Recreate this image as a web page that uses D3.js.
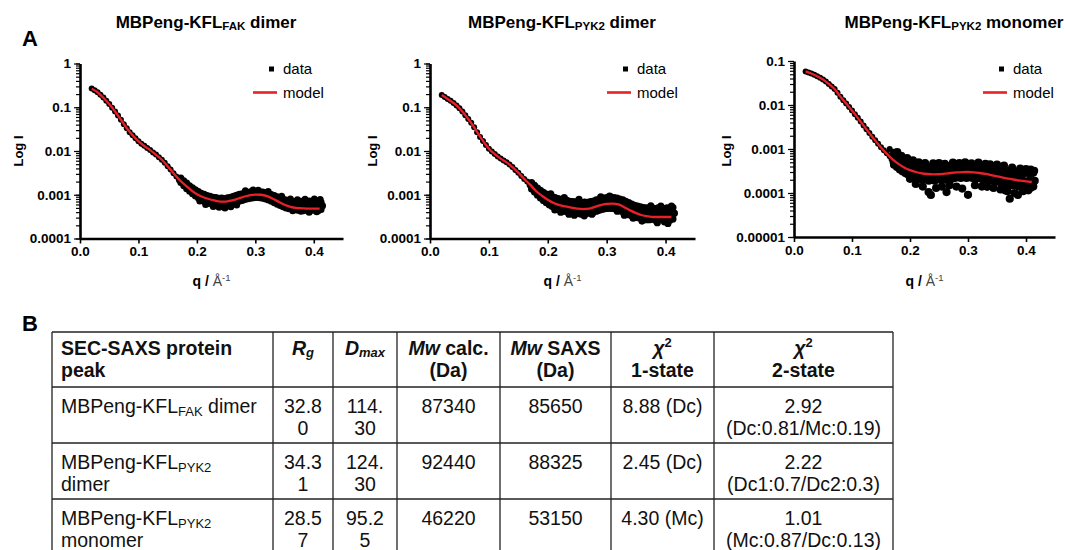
<!DOCTYPE html>
<html lang="en">
<head>
<meta charset="utf-8">
<title>SEC-SAXS fits and table</title>
<script src="https://d3js.org/d3.v7.min.js"></script>
<style>
  body { margin: 0; background: #fff; }
  text { white-space: pre; }
</style>
</head>
<body>
<script>
// ---------- data ----------
// q grid of the measured points (1/A)
const qData = [
  0.020, 0.025, 0.030, 0.035, 0.040, 0.045, 0.050, 0.055, 0.060, 0.065,
  0.070, 0.075, 0.080, 0.085, 0.090, 0.095, 0.100, 0.105, 0.110, 0.115,
  0.120, 0.125, 0.130, 0.135, 0.140, 0.145, 0.150, 0.155, 0.160, 0.165,
  0.170, 0.175, 0.180, 0.185, 0.190, 0.195, 0.200, 0.205, 0.210, 0.215,
  0.220, 0.225, 0.230, 0.235, 0.240, 0.245, 0.250, 0.255, 0.260, 0.265,
  0.270, 0.275, 0.280, 0.285, 0.290, 0.295, 0.300, 0.305, 0.310, 0.315,
  0.320, 0.325, 0.330, 0.335, 0.340, 0.345, 0.350, 0.355, 0.360, 0.365,
  0.370, 0.375, 0.380, 0.385, 0.390, 0.395, 0.400, 0.405, 0.410, 0.415
];
// q grid of the noisy tail (upper / lower edge of the scatter band)
const qTail = [
  0.1725, 0.1775, 0.1825, 0.1875, 0.1925, 0.1975, 0.2025, 0.2075, 0.2125, 0.2175,
  0.2225, 0.2275, 0.2325, 0.2375, 0.2425, 0.2475, 0.2525, 0.2575, 0.2625, 0.2675,
  0.2725, 0.2775, 0.2825, 0.2875, 0.2925, 0.2975, 0.3025, 0.3075, 0.3125, 0.3175,
  0.3225, 0.3275, 0.3325, 0.3375, 0.3425, 0.3475, 0.3525, 0.3575, 0.3625, 0.3675,
  0.3725, 0.3775, 0.3825, 0.3875, 0.3925, 0.3975, 0.4025, 0.4075, 0.4125
];
// q grid of the model curves
const qModel = [
  0.02, 0.03, 0.04, 0.05, 0.06, 0.07, 0.08, 0.09, 0.10, 0.11,
  0.12, 0.13, 0.14, 0.15, 0.16, 0.17, 0.18, 0.19, 0.20, 0.21,
  0.22, 0.23, 0.24, 0.25, 0.26, 0.27, 0.28, 0.29, 0.30, 0.31,
  0.32, 0.33, 0.34, 0.35, 0.36, 0.37, 0.38, 0.39, 0.40, 0.41
];

// MBPeng-KFL FAK dimer
const fakData = [
  0.27, 0.245, 0.22, 0.192, 0.166, 0.141, 0.118, 0.098, 0.080, 0.065,
  0.052, 0.041, 0.033, 0.027, 0.0228, 0.0195, 0.0168, 0.0147, 0.0131, 0.0117,
  0.0105, 0.0093, 0.0083, 0.0072, 0.0063, 0.0054, 0.0045, 0.0038, 0.0031, 0.0026,
  0.0022, 0.0019, 0.00168, 0.00146, 0.00131, 0.00117, 0.00106, 0.00097, 0.00090, 0.00086,
  0.00081, 0.00078, 0.00074, 0.00073, 0.00070, 0.00071, 0.00070, 0.00073, 0.00075, 0.00079,
  0.00083, 0.00087, 0.00091, 0.00095, 0.00098, 0.00100, 0.00102, 0.00101, 0.00100, 0.00097,
  0.00093, 0.00088, 0.00083, 0.00077, 0.00072, 0.00067, 0.00063, 0.00061, 0.00058, 0.00057,
  0.00056, 0.00057, 0.00055, 0.00056, 0.00057, 0.00055, 0.00056, 0.00057, 0.00055, 0.00056
];
const fakUpper = [
  0.0024, 0.0021, 0.00185, 0.0016, 0.00145, 0.0013, 0.00118, 0.00108, 0.00102, 0.00096,
  0.00092, 0.00088, 0.00086, 0.00083, 0.00084, 0.00082, 0.00085, 0.00088, 0.00092, 0.00097,
  0.00102, 0.00106, 0.00110, 0.00114, 0.00117, 0.00118, 0.00120, 0.00117, 0.00116, 0.00112,
  0.00106, 0.00101, 0.00096, 0.00090, 0.00085, 0.00080, 0.00076, 0.00074, 0.00071, 0.00070,
  0.00069, 0.00071, 0.00068, 0.00070, 0.00072, 0.00068, 0.00070, 0.00071, 0.00067
];
const fakLower = [
  0.0019, 0.00160, 0.00138, 0.00120, 0.00106, 0.00094, 0.00084, 0.00077, 0.00071, 0.00067,
  0.00063, 0.00060, 0.00058, 0.00057, 0.00055, 0.00056, 0.00058, 0.00060, 0.00063, 0.00067,
  0.00071, 0.00074, 0.00078, 0.00081, 0.00083, 0.00085, 0.00086, 0.00085, 0.00083, 0.00080,
  0.00076, 0.00071, 0.00066, 0.00061, 0.00057, 0.00053, 0.00050, 0.00048, 0.00047, 0.00046,
  0.00044, 0.00046, 0.00043, 0.00045, 0.00046, 0.00044, 0.00045, 0.00043, 0.00046
];
const fakStray = [
  [0.205, 0.00072], [0.215, 0.00060], [0.228, 0.00054], [0.238, 0.00052], [0.248, 0.00050],
  [0.258, 0.00053], [0.268, 0.00058], [0.283, 0.00124], [0.296, 0.00129], [0.305, 0.00127],
  [0.322, 0.00118], [0.345, 0.00092], [0.360, 0.00080], [0.372, 0.00077], [0.385, 0.00079],
  [0.392, 0.00040], [0.401, 0.00080], [0.405, 0.00041], [0.411, 0.00078], [0.378, 0.00042],
  [0.364, 0.00043]
];
const fakModel = [
  0.265, 0.22, 0.165, 0.118, 0.080, 0.052, 0.033, 0.023, 0.0168, 0.0130,
  0.0105, 0.0082, 0.0063, 0.0045, 0.0031, 0.0022, 0.00165, 0.00128, 0.00103, 0.00089,
  0.00080, 0.00074, 0.00070, 0.00070, 0.00074, 0.00081, 0.00090, 0.00097, 0.00101, 0.00100,
  0.00093, 0.00081, 0.00069, 0.00059, 0.00053, 0.00050, 0.00049, 0.00048, 0.00048, 0.00048
];

// MBPeng-KFL PYK2 dimer
const pykDimerData = [
  0.19, 0.172, 0.155, 0.140, 0.125, 0.110, 0.095, 0.080, 0.066, 0.054,
  0.044, 0.035, 0.027, 0.021, 0.017, 0.0138, 0.0113, 0.0097, 0.0085, 0.0075,
  0.0067, 0.0061, 0.0055, 0.0049, 0.0043, 0.0037, 0.0032, 0.0027, 0.0023, 0.0020,
  0.0017, 0.00145, 0.00124, 0.00108, 0.00096, 0.00086, 0.00078, 0.00072, 0.00066, 0.00063,
  0.00059, 0.00057, 0.00055, 0.00054, 0.00052, 0.00051, 0.00050, 0.00049, 0.00049, 0.00050,
  0.00051, 0.00053, 0.00055, 0.00058, 0.00060, 0.00062, 0.00064, 0.00065, 0.00065, 0.00063,
  0.00061, 0.00057, 0.00054, 0.00050, 0.00046, 0.00043, 0.00041, 0.00040, 0.00038, 0.00037,
  0.00037, 0.00036, 0.00037, 0.00036, 0.00037, 0.00038, 0.00036, 0.00037, 0.00036, 0.00038
];
const pykDimerUpper = [
  0.0019, 0.00165, 0.00142, 0.00126, 0.00114, 0.00104, 0.00097, 0.00091, 0.00086, 0.00082,
  0.00078, 0.00076, 0.00074, 0.00071, 0.00070, 0.00069, 0.00067, 0.00066, 0.00068, 0.00067,
  0.00070, 0.00072, 0.00076, 0.00079, 0.00082, 0.00085, 0.00087, 0.00088, 0.00086, 0.00084,
  0.00080, 0.00076, 0.00071, 0.00066, 0.00061, 0.00057, 0.00055, 0.00053, 0.00051, 0.00050,
  0.00049, 0.00050, 0.00048, 0.00050, 0.00051, 0.00048, 0.00050, 0.00049, 0.00051
];
const pykDimerLower = [
  0.00135, 0.00115, 0.00098, 0.00084, 0.00074, 0.00066, 0.00059, 0.00054, 0.00050, 0.00047,
  0.00044, 0.00042, 0.00041, 0.00040, 0.00038, 0.00038, 0.00037, 0.00036, 0.00037, 0.00038,
  0.00039, 0.00040, 0.00042, 0.00044, 0.00046, 0.00048, 0.00049, 0.00049, 0.00048, 0.00046,
  0.00043, 0.00041, 0.00038, 0.00035, 0.00033, 0.00031, 0.00030, 0.00029, 0.00028, 0.00027,
  0.00027, 0.00028, 0.00026, 0.00027, 0.00028, 0.00026, 0.00027, 0.00026, 0.00028
];
const pykDimerStray = [
  [0.205, 0.00105], [0.212, 0.00045], [0.222, 0.00040], [0.228, 0.00086], [0.236, 0.00036],
  [0.245, 0.00034], [0.253, 0.00078], [0.262, 0.00033], [0.275, 0.00036], [0.290, 0.00090],
  [0.305, 0.00093], [0.318, 0.00042], [0.330, 0.00034], [0.345, 0.00029], [0.360, 0.00025],
  [0.375, 0.00056], [0.386, 0.00023], [0.392, 0.00055], [0.398, 0.00024], [0.404, 0.00022],
  [0.410, 0.00055]
];
const pykDimerModel = [
  0.19, 0.155, 0.125, 0.095, 0.066, 0.044, 0.027, 0.017, 0.0113, 0.0085,
  0.0067, 0.0055, 0.0043, 0.0032, 0.0023, 0.0017, 0.00122, 0.00095, 0.00077, 0.00065,
  0.00058, 0.00054, 0.00051, 0.00048, 0.00047, 0.00048, 0.00053, 0.00058, 0.00062, 0.00063,
  0.00060, 0.00052, 0.00044, 0.00038, 0.00034, 0.00032, 0.00031, 0.00031, 0.00031, 0.00031
];

// MBPeng-KFL PYK2 monomer
const pykMonoData = [
  0.058, 0.055, 0.052, 0.0485, 0.045, 0.0415, 0.038, 0.034, 0.030, 0.0265,
  0.023, 0.019, 0.0155, 0.0129, 0.0108, 0.0090, 0.0075, 0.0062, 0.0051, 0.0042,
  0.0034, 0.0028, 0.0023, 0.0019, 0.00158, 0.00132, 0.00110, 0.00094, 0.00080, 0.00068,
  0.00060, 0.00052, 0.00047, 0.00043, 0.00039, 0.00036, 0.00034, 0.00031, 0.00030, 0.00029,
  0.00028, 0.00029, 0.00027, 0.00028, 0.00027, 0.00028, 0.00027, 0.00029, 0.00028, 0.00029,
  0.00030, 0.00029, 0.00030, 0.00031, 0.00030, 0.00031, 0.00030, 0.00031, 0.00030, 0.00029,
  0.00030, 0.00028, 0.00028, 0.00027, 0.00026, 0.00025, 0.00025, 0.00023, 0.00023, 0.00022,
  0.00022, 0.00020, 0.00021, 0.00019, 0.00020, 0.00019, 0.00018, 0.00019, 0.00018, 0.00019
];
const pykMonoUpper = [
  0.00082, 0.00072, 0.00064, 0.00058, 0.00053, 0.00049, 0.00045, 0.00043, 0.00041, 0.00040,
  0.00039, 0.00040, 0.00038, 0.00039, 0.00038, 0.00040, 0.00038, 0.00040, 0.00039, 0.00041,
  0.00040, 0.00042, 0.00041, 0.00043, 0.00041, 0.00042, 0.00043, 0.00041, 0.00042, 0.00040,
  0.00041, 0.00039, 0.00040, 0.00037, 0.00038, 0.00035, 0.00036, 0.00033, 0.00034, 0.00031,
  0.00032, 0.00030, 0.00031, 0.00029, 0.00030, 0.00028, 0.00030, 0.00027, 0.00029
];
const pykMonoLower = [
  0.00044, 0.00039, 0.00034, 0.00031, 0.00028, 0.00026, 0.00024, 0.00023, 0.00022, 0.00021,
  0.00020, 0.00021, 0.00019, 0.00020, 0.00019, 0.00021, 0.00020, 0.00021, 0.00020, 0.00022,
  0.00021, 0.00022, 0.00023, 0.00022, 0.00023, 0.00022, 0.00023, 0.00022, 0.00021, 0.00022,
  0.00021, 0.00020, 0.00021, 0.00019, 0.00019, 0.00018, 0.00018, 0.00017, 0.00016, 0.00016,
  0.00015, 0.00015, 0.00015, 0.00014, 0.00014, 0.00014, 0.00014, 0.00013, 0.00014
];
const pykMonoStray = [
  [0.165, 0.00100], [0.172, 0.00050], [0.178, 0.00085], [0.185, 0.00070], [0.190, 0.00032],
  [0.195, 0.00062], [0.200, 0.00021], [0.205, 0.00055], [0.210, 0.00016], [0.215, 0.00050],
  [0.222, 0.00014], [0.226, 0.00048], [0.232, 0.000105], [0.236, 0.00009], [0.240, 0.00047],
  [0.245, 0.00013], [0.250, 0.00048], [0.255, 0.00014], [0.260, 0.00046], [0.263, 0.000105],
  [0.268, 0.00015], [0.274, 0.00049], [0.280, 0.00014], [0.285, 0.00048], [0.290, 0.000126],
  [0.295, 0.00050], [0.300, 0.000091], [0.306, 0.00047], [0.312, 0.00015], [0.318, 0.00049],
  [0.324, 0.00014], [0.330, 0.00046], [0.333, 0.000138], [0.338, 0.00045], [0.344, 0.00013],
  [0.350, 0.00044], [0.356, 0.00012], [0.362, 0.00042], [0.364, 0.000115], [0.368, 0.00011],
  [0.372, 0.000074], [0.376, 0.00038], [0.380, 0.00010], [0.386, 0.00009], [0.390, 0.00036],
  [0.395, 0.00011], [0.400, 0.00035], [0.404, 0.000115], [0.408, 0.00034], [0.412, 0.00015],
  [0.414, 0.00032]
];
const pykMonoModel = [
  0.058, 0.052, 0.045, 0.038, 0.030, 0.023, 0.0155, 0.0108, 0.0075, 0.0051,
  0.0034, 0.0023, 0.00156, 0.00108, 0.00078, 0.00058, 0.00046, 0.00038, 0.00033, 0.00030,
  0.000280, 0.000270, 0.000266, 0.000267, 0.000275, 0.000285, 0.000293, 0.000298, 0.000300, 0.000295,
  0.000285, 0.000272, 0.000256, 0.000240, 0.000225, 0.000212, 0.000200, 0.000190, 0.000183, 0.000178
];

// axes
const xTicks = [0, 0.1, 0.2, 0.3, 0.4];
const yTicksDimer = [1, 0.1, 0.01, 0.001, 0.0001];
const yLabelsDimer = ["1", "0.1", "0.01", "0.001", "0.0001"];
const yTicksMono = [0.1, 0.01, 0.001, 0.0001, 0.00001];
const yLabelsMono = ["0.1", "0.01", "0.001", "0.0001", "0.00001"];

const titles = ["MBPeng-KFL_{FAK} dimer", "MBPeng-KFL_{PYK2} dimer", "MBPeng-KFL_{PYK2} monomer"];
const legendLabels = ["data", "model"];

// table (markup: *italic*, _{sub}, ^{sup}; each cell = list of lines)
const tableHeader = [
  ["SEC-SAXS protein", "peak"], ["*R*_{*g*}"], ["*D*_{*max*}"],
  ["*Mw* calc.", "(Da)"], ["*Mw* SAXS", "(Da)"], ["*χ*^{2}", "1-state"], ["*χ*^{2}", "2-state"]
];
const tableRows = [
  [["MBPeng-KFL_{FAK} dimer"], ["32.8", "0"], ["114.", "30"], ["87340"], ["85650"], ["8.88 (Dc)"], ["2.92", "(Dc:0.81/Mc:0.19)"]],
  [["MBPeng-KFL_{PYK2}", "dimer"], ["34.3", "1"], ["124.", "30"], ["92440"], ["88325"], ["2.45 (Dc)"], ["2.22", "(Dc1:0.7/Dc2:0.3)"]],
  [["MBPeng-KFL_{PYK2}", "monomer"], ["28.5", "7"], ["95.2", "5"], ["46220"], ["53150"], ["4.30 (Mc)"], ["1.01", "(Mc:0.87/Dc:0.13)"]]
];

// ---------- drawing ----------
const FONT = '"Liberation Sans", Arial, Helvetica, sans-serif';
const RED = "#e8202a";

const svg = d3.select("body").append("svg")
  .attr("width", 1065).attr("height", 550)
  .style("font-family", FONT);

// split markup into styled pieces
function richSegments(str) {
  const segs = [];
  let italic = false, mode = "normal", buf = "", i = 0;
  const push = () => { if (buf) segs.push({ text: buf, italic, mode }); buf = ""; };
  while (i < str.length) {
    const c = str[i];
    if (c === "*") { push(); italic = !italic; i++; }
    else if ((c === "_" || c === "^") && str[i + 1] === "{") { push(); mode = c === "_" ? "sub" : "sup"; i += 2; }
    else if (c === "}" && mode !== "normal") { push(); mode = "normal"; i++; }
    else { buf += c; i++; }
  }
  push();
  return segs;
}

function addRich(textSel, str, size, small, subShift) {
  let shift = 0;
  richSegments(str).forEach(s => {
    const target = s.mode === "sub" ? subShift : s.mode === "sup" ? -size * 0.38 : 0;
    textSel.append("tspan")
      .attr("dy", target - shift)
      .attr("font-size", s.mode === "normal" ? size : small)
      .attr("font-style", s.italic ? "italic" : "normal")
      .text(s.text);
    shift = target;
  });
}

const panels = [
  { title: titles[0], data: fakData, upper: fakUpper, lower: fakLower, stray: fakStray, model: fakModel,
    yDomain: [0.0001, 1], yTicks: yTicksDimer, yLabels: yLabelsDimer, tailR: 3.5,
    left: 80, right: 343, top: 63.5, bottom: 238.5, titleX: 206, yLabX: 18, legX: 253 },
  { title: titles[1], data: pykDimerData, upper: pykDimerUpper, lower: pykDimerLower, stray: pykDimerStray, model: pykDimerModel,
    yDomain: [0.0001, 1], yTicks: yTicksDimer, yLabels: yLabelsDimer, tailR: 3.6,
    left: 430, right: 695, top: 63.5, bottom: 238.5, titleX: 562, yLabX: 372, legX: 607 },
  { title: titles[2], data: pykMonoData, upper: pykMonoUpper, lower: pykMonoLower, stray: pykMonoStray, model: pykMonoModel,
    yDomain: [0.00001, 0.1], yTicks: yTicksMono, yLabels: yLabelsMono, tailR: 4.1,
    left: 794, right: 1055, top: 61, bottom: 237, titleX: 954, yLabX: 726, legX: 983 }
];

panels.forEach(p => {
  const g = svg.append("g");
  const x = d3.scaleLinear().domain([0, 0.45]).range([p.left, p.right]);
  const y = d3.scaleLog().domain(p.yDomain).range([p.bottom, p.top]);

  // scattered data; the noisy tail is drawn with larger dots
  const pts = qData.map((q, i) => [q, p.data[i]])
    .concat(qTail.map((q, i) => [q, p.upper[i]]))
    .concat(qTail.map((q, i) => [q, p.lower[i]]))
    .concat(p.stray);
  g.append("g").selectAll("circle").data(pts).join("circle")
    .attr("cx", d => x(d[0]))
    .attr("cy", d => y(d[1]))
    .attr("r", d => d[0] < 0.17 ? 3 : p.tailR)
    .attr("fill", "#000");

  // model fit
  g.append("path")
    .datum(qModel.map((q, i) => [q, p.model[i]]))
    .attr("fill", "none")
    .attr("stroke", RED)
    .attr("stroke-width", 2.3)
    .attr("d", d3.line().x(d => x(d[0])).y(d => y(d[1])).curve(d3.curveMonotoneX));

  // y axis: minor ticks then labelled decades
  const minor = g.append("g").attr("transform", `translate(${p.left},0)`)
    .call(d3.axisLeft(y).tickValues(y.ticks()).tickSize(4).tickFormat(""));
  const major = g.append("g").attr("transform", `translate(${p.left},0)`)
    .call(d3.axisLeft(y).tickValues(p.yTicks).tickSize(6).tickSizeOuter(0).tickPadding(3)
      .tickFormat((d, i) => p.yLabels[i]));
  minor.select(".domain").remove();
  [minor, major].forEach(a => a.selectAll(".tick line").attr("stroke", "#000").attr("stroke-width", 1.2));
  major.select(".domain").attr("stroke", "#000").attr("stroke-width", 2.6);
  major.selectAll("text").attr("font-family", FONT).attr("font-size", 13.5)
    .attr("font-weight", "bold").attr("fill", "#000");

  // x axis
  const xa = g.append("g").attr("transform", `translate(0,${p.bottom})`)
    .call(d3.axisBottom(x).tickValues(xTicks).tickSize(5).tickSizeOuter(0).tickPadding(3)
      .tickFormat(d3.format(".1f")));
  xa.select(".domain").attr("stroke", "#000").attr("stroke-width", 2.6);
  xa.selectAll(".tick line").attr("stroke", "#000").attr("stroke-width", 1.6);
  xa.selectAll("text").attr("font-family", FONT).attr("font-size", 13.5)
    .attr("font-weight", "bold").attr("fill", "#000");

  // title
  const t = g.append("text").attr("x", p.titleX).attr("y", 28)
    .attr("text-anchor", "middle").attr("font-weight", "bold").attr("fill", "#000");
  addRich(t, p.title, 17, 11.5, 2);

  // axis titles
  g.append("text")
    .attr("transform", `translate(${p.yLabX + 5},151) rotate(-90)`)
    .attr("text-anchor", "middle").attr("font-weight", "bold").attr("font-size", 13)
    .text("Log I");
  const xl = g.append("text").attr("x", (p.left + p.right) / 2).attr("y", 286)
    .attr("text-anchor", "middle").attr("font-size", 14);
  xl.append("tspan").attr("font-weight", "bold").text("q / ");
  xl.append("tspan").attr("fill", "#444").text("Å");
  xl.append("tspan").attr("fill", "#444").attr("font-size", 9.5).attr("dy", -5.5).text("-1");

  // legend
  g.append("rect").attr("x", p.legX + 16).attr("y", 66.5).attr("width", 5).attr("height", 5).attr("fill", "#000");
  g.append("line").attr("x1", p.legX).attr("x2", p.legX + 24).attr("y1", 92.5).attr("y2", 92.5)
    .attr("stroke", RED).attr("stroke-width", 2.6);
  g.selectAll(".leg").data(legendLabels).join("text")
    .attr("x", p.legX + 30).attr("y", (d, i) => 73.5 + i * 24.5)
    .attr("font-size", 15).attr("fill", "#000").text(d => d);
});

// panel letters
svg.append("text").attr("x", 22).attr("y", 46).attr("font-size", 22).attr("font-weight", "bold").text("A");
svg.append("text").attr("x", 22).attr("y", 331).attr("font-size", 22).attr("font-weight", "bold").text("B");

// ---------- table ----------
const colEdges = [52, 273, 333, 397, 500, 611, 714, 893];
const rowEdges = [332, 387, 443, 499, 555];
const tg = svg.append("g");

tg.selectAll(".hline").data(rowEdges).join("line")
  .attr("x1", colEdges[0]).attr("x2", colEdges[colEdges.length - 1])
  .attr("y1", d => d).attr("y2", d => d)
  .attr("stroke", "#222").attr("stroke-width", 1.3);
tg.selectAll(".vline").data(colEdges).join("line")
  .attr("x1", d => d).attr("x2", d => d)
  .attr("y1", rowEdges[0]).attr("y2", rowEdges[rowEdges.length - 1])
  .attr("stroke", "#222").attr("stroke-width", 1.3);

function drawRow(cells, top, bold, firstBase) {
  cells.forEach((lines, c) => {
    const left = c === 0;
    lines.forEach((line, li) => {
      const t = tg.append("text")
        .attr("x", left ? colEdges[0] + 9 : (colEdges[c] + colEdges[c + 1]) / 2)
        .attr("y", top + firstBase + li * 22)
        .attr("text-anchor", left ? "start" : "middle")
        .attr("font-weight", bold ? "bold" : "normal")
        .attr("fill", "#111");
      addRich(t, line, 19.5, 13, 2.5);
    });
  });
}
drawRow(tableHeader, rowEdges[0], true, 22.5);
tableRows.forEach((r, i) => drawRow(r, rowEdges[i + 1], false, 26));
</script>
</body>
</html>
